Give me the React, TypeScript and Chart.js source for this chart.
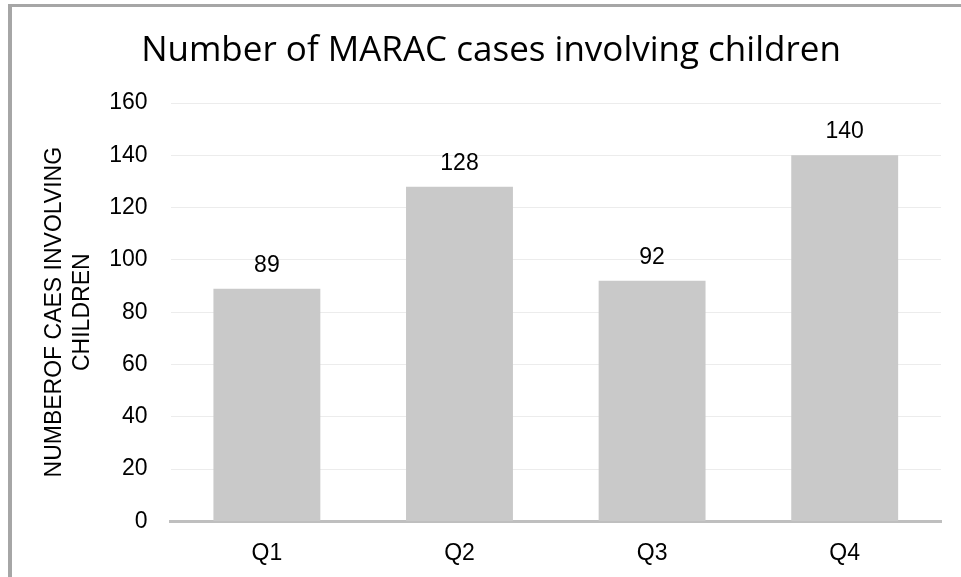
import React, { useEffect, useRef } from "react";
import { Chart, registerables } from "chart.js";

Chart.register(...registerables);

const categories = ["Q1", "Q2", "Q3", "Q4"];
const casesValues = [89, 128, 92, 140];
const chartTitle = "Number of MARAC cases involving children";
const yAxisTitle = ["NUMBEROF CAES INVOLVING", "CHILDREN"];
const yMin = 0;
const yMax = 160;
const yStep = 20;

const FONT = "'Liberation Sans', Arial, sans-serif";

const valueLabels = {
  id: "valueLabels",
  afterDatasetsDraw(chart: any) {
    const ctx = chart.ctx;
    ctx.save();
    ctx.font = `23px ${FONT}`;
    ctx.fillStyle = "#000";
    ctx.textAlign = "center";
    ctx.textBaseline = "bottom";
    chart.data.datasets.forEach((ds: any, di: number) => {
      const meta = chart.getDatasetMeta(di);
      meta.data.forEach((bar: any, i: number) => {
        ctx.fillText(String(ds.data[i]), bar.x, bar.y - 12);
      });
    });
    ctx.restore();
  },
};

export default function App() {
  const ref = useRef<HTMLCanvasElement>(null);
  useEffect(() => {
    if (!ref.current) return;
    const chart = new Chart(ref.current, {
      type: "bar",
      data: {
        labels: categories,
        datasets: [
          {
            data: casesValues,
            backgroundColor: "#c9c9c9",
            barPercentage: 0.555,
            categoryPercentage: 1,
          },
        ],
      },
      options: {
        animation: false,
        responsive: true,
        maintainAspectRatio: false,
        layout: { padding: { top: 10, right: 20, bottom: -8, left: 29 } },
        plugins: {
          legend: { display: false },
          tooltip: { enabled: false },
          title: {
            display: true,
            text: chartTitle,
            color: "#000",
            font: { family: "'Open Sans', sans-serif", size: 35, weight: "normal" },
            padding: { top: 13, bottom: 31 },
          },
        },
        scales: {
          x: {
            grid: { display: false, drawTicks: false },
            border: { display: true, color: "#bfbfbf", width: 3 },
            ticks: {
              color: "#000",
              padding: 18,
              font: { family: FONT, size: 23 },
            },
          },
          y: {
            min: yMin,
            max: yMax,
            grid: { color: "#ececec", lineWidth: 1, drawTicks: false },
            border: { display: false },
            ticks: {
              stepSize: yStep,
              color: "#000",
              padding: 23,
              font: { family: FONT, size: 23 },
            },
            title: {
              display: true,
              text: yAxisTitle,
              color: "#000",
              padding: { top: 0, bottom: -10 },
              font: { family: FONT, size: 23, lineHeight: 1.2 },
            },
          },
        },
      },
      plugins: [valueLabels],
    });
    return () => chart.destroy();
  }, []);

  return (
    <div
      style={{
        position: "absolute",
        left: 8,
        top: 4,
        width: 953,
        height: 573,
        borderTop: "3px solid #a6a6a6",
        borderLeft: "4px solid #a6a6a6",
        boxSizing: "border-box",
        background: "#fff",
      }}
    >
      <div style={{ position: "relative", width: 949, height: 570 }}>
        <canvas ref={ref} />
      </div>
    </div>
  );
}
